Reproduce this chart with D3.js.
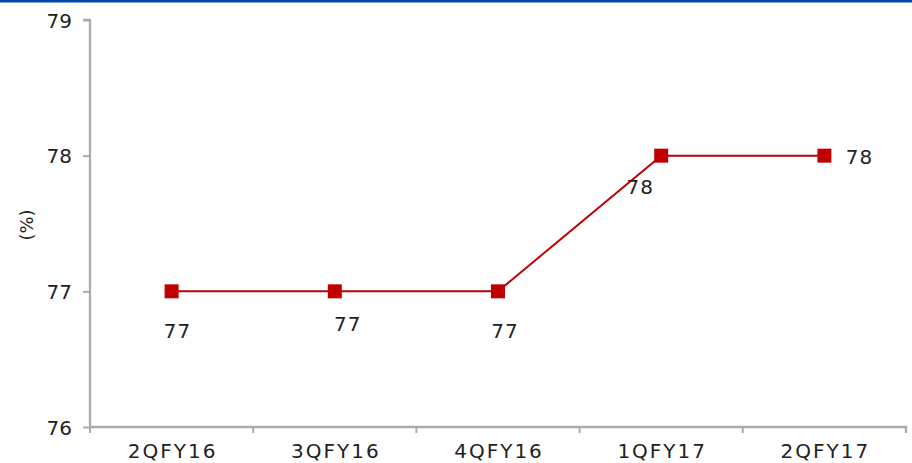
<!DOCTYPE html>
<html><head><meta charset="utf-8">
<script src="https://cdn.jsdelivr.net/npm/d3@7"></script>
<style>body{margin:0;background:#fff}svg{display:block}</style>
</head><body>
<svg id="c" width="912" height="463"></svg>
<script>
const categories = ["2QFY16","3QFY16","4QFY16","1QFY17","2QFY17"];
const values = [77, 77, 77, 78, 78];
const yTicks = [76, 77, 78, 79];
const yLabel = "(%)";
// label placement offsets relative to each point (dx, dy of baseline)
const labelOffsets = [[6,47],[13,40],[7,47],[-21,38],[35,8]];

const svg = d3.select("#c");
const font = "'DejaVu Sans', sans-serif";
const m = {l:90, r:906, t:20, b:427};
const x = d3.scaleBand().domain(categories).range([m.l, m.r]);
const y = d3.scaleLinear().domain([76,79]).range([m.b, m.t]);

svg.append("rect").attr("x",0).attr("y",0).attr("width",912).attr("height",2.5).attr("fill","#0047ab");

const axColor = "#ababab";
// y axis
const ya = svg.append("g").attr("transform",`translate(${m.l},0)`)
  .call(d3.axisLeft(y).tickValues(yTicks).tickSize(7).tickPadding(11).tickFormat(d3.format("d")));
ya.select(".domain").attr("stroke",axColor).attr("stroke-width",2.3).attr("d",`M-7,${m.t}H0V${m.b}`);
ya.selectAll(".tick line").attr("stroke",axColor).attr("stroke-width",2);
ya.selectAll(".tick text").attr("font-family",font).attr("font-size",20).attr("fill","#222").attr("dy","0.35em");

// x axis
const xa = svg.append("g").attr("transform",`translate(0,${m.b})`)
  .call(d3.axisBottom(x).tickSize(0).tickPadding(15));
xa.select(".domain").attr("stroke",axColor).attr("stroke-width",2.3).attr("d",`M${m.l},0H${m.r}V6`);
xa.selectAll(".tick text").attr("font-family",font).attr("font-size",20).attr("fill","#222")
  .attr("dy","0.78em").attr("letter-spacing","2px").attr("dx","1px");
svg.append("g").selectAll("line").data(categories).join("line")
  .attr("x1",d=>x(d)).attr("x2",d=>x(d)).attr("y1",m.b).attr("y2",m.b+6)
  .attr("stroke",axColor).attr("stroke-width",2);
svg.append("line").attr("x1",m.r).attr("x2",m.r).attr("y1",m.b).attr("y2",m.b+6).attr("stroke",axColor).attr("stroke-width",2);

svg.append("text").attr("transform",`translate(33,225) rotate(-90)`).attr("text-anchor","middle")
  .attr("font-family",font).attr("font-size",18).attr("fill","#222").text(yLabel);

const cx = d => x(d) + x.bandwidth()/2;
const line = d3.line().x((d,i)=>cx(categories[i])).y(d=>y(d));
svg.append("path").datum(values).attr("d",line).attr("fill","none").attr("stroke","#c00000").attr("stroke-width",2);
svg.append("g").selectAll("rect").data(values).join("rect")
  .attr("x",(d,i)=>cx(categories[i])-7).attr("y",d=>y(d)-7).attr("width",14).attr("height",14).attr("fill","#c00000");
svg.append("g").selectAll("text").data(values).join("text")
  .attr("x",(d,i)=>cx(categories[i])+labelOffsets[i][0]).attr("y",(d,i)=>y(d)+labelOffsets[i][1])
  .attr("text-anchor","middle").attr("font-family",font).attr("font-size",20).attr("fill","#222")
  .attr("letter-spacing","1px").text(d=>d);
</script>
</body></html>
